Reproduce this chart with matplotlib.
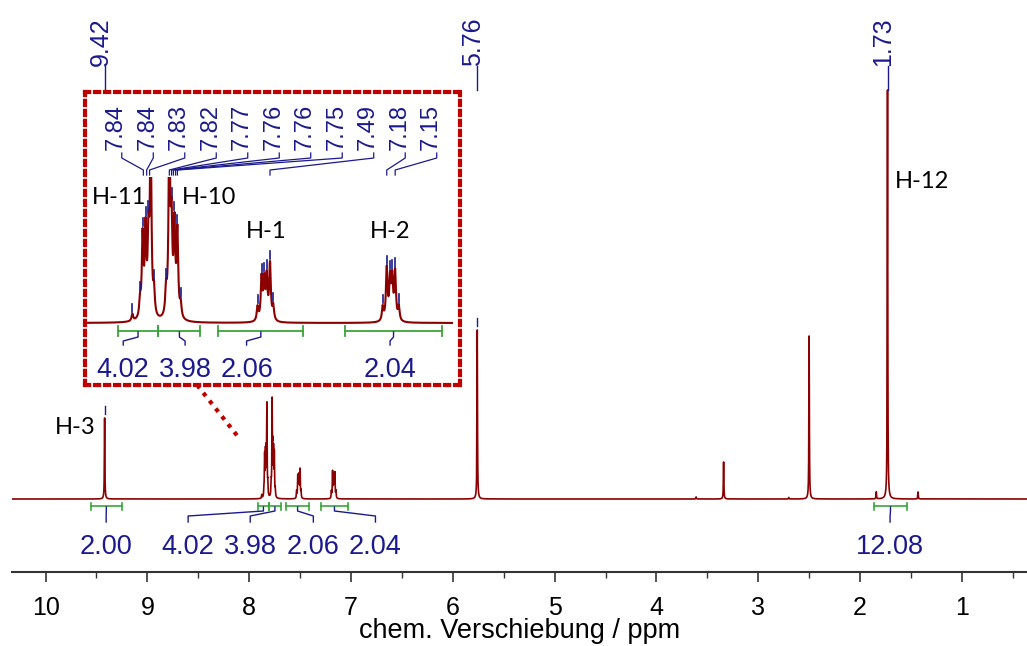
import numpy as np
import matplotlib.pyplot as plt
from matplotlib.ticker import MultipleLocator

# --- peak list (ppm, intensity) ---
singlet_ppm = [9.42, 5.76, 3.61, 3.34, 2.70, 2.50, 1.84, 1.73, 1.43]
singlet_height = [81, 169, 2, 37, 1.5, 163, 7, 409, 7]

h11_ppm = [7.876, 7.855, 7.848, 7.840, 7.832, 7.826, 7.817]
h11_height = [3.5, 8, 40, 42, 36, 88, 12]
h10_ppm = [7.784, 7.775, 7.769, 7.761, 7.753, 7.744]
h10_height = [12, 92, 42, 44, 42, 7]
h1_ppm = [7.534, 7.523, 7.516, 7.509, 7.500, 7.491]
h1_height = [7, 21, 19, 21, 28, 7]
h2_ppm = [7.192, 7.181, 7.172, 7.166, 7.158, 7.148]
h2_height = [7, 26, 20, 20, 24, 7]
line_width = 0.0026

# peak labels
top_labels = ["9.42", "5.76", "1.73"]
top_ppm = [9.42, 5.76, 1.73]
inset_labels = ["7.84", "7.84", "7.83", "7.82", "7.77", "7.76", "7.76", "7.75", "7.49", "7.18", "7.15"]
inset_targets = [7.846, 7.837, 7.829, 7.775, 7.769, 7.764, 7.758, 7.753, 7.500, 7.181, 7.158]

# integrals
int_ranges = [(9.556, 9.251), (7.916, 7.805), (7.805, 7.690), (7.641, 7.409), (7.294, 7.031), (1.862, 1.540)]
int_values = ["2.00", "4.02", "3.98", "2.06", "2.04", "12.08"]
int_label_ppm = [9.405, 8.60, 7.99, 7.37, 6.76, 1.705]
inset_int_idx = [1, 2, 3, 4]
inset_int_label_ppm = [7.901, 7.732, 7.564, 7.172]

# assignments
main_assign = [("H-3", 9.71, 71), ("H-12", 1.395, 317)]
inset_assign = [("H-11", 7.913, 63), ("H-10", 7.667, 63), ("H-1", 7.511, 45.6), ("H-2", 7.172, 45.6)]

RED = "#8B0000"
BLUE = "#1a1a8e"
GREEN = "#3aa53a"
BOX = "#c00000"
FONT = "Liberation Sans"

all_ppm = np.array(singlet_ppm + h11_ppm + h10_ppm + h1_ppm + h2_ppm)
all_h = np.array(singlet_height + h11_height + h10_height + h1_height + h2_height)

x = np.arange(0.30, 10.40, 0.0004)
y = np.zeros_like(x)
for p, h in zip(all_ppm, all_h):
    y += h * line_width**2 / ((x - p)**2 + line_width**2)

fig = plt.figure(figsize=(10.27, 6.46), dpi=100)
W, H = 1027, 646

# --- main spectrum ---
ax = fig.add_axes([12 / W, 74 / H, 1015 / W, 572 / H])
ax.plot(x, y, color=RED, lw=1.2)
ax.set_xlim(10.33, 0.36)
ax.set_ylim(-73, 499)
for s in ["top", "left", "right"]:
    ax.spines[s].set_visible(False)
ax.spines["bottom"].set_color("#333333")
ax.spines["bottom"].set_linewidth(1.5)
ax.set_yticks([])
ax.xaxis.set_major_locator(MultipleLocator(1))
ax.xaxis.set_minor_locator(MultipleLocator(0.5))
ax.tick_params(axis="x", which="major", length=7, width=1.2, color="#333333", labelsize=18, pad=10)
ax.tick_params(axis="x", which="minor", length=4, width=1.0, color="#333333")
for lab in ax.get_xticklabels():
    lab.set_fontfamily(FONT)
ax.set_xlabel("chem. Verschiebung / ppm", fontsize=19.5, family=FONT, labelpad=-1)

# top peak labels
for t, p in zip(top_labels, top_ppm):
    ax.text(p + 0.04, 433, t, rotation=90, ha="center", va="bottom", color=BLUE, fontsize=18, family=FONT)
    ax.plot([p, p], [409, 433], color=BLUE, lw=1.0, clip_on=False)
    top = np.interp(p, x, y)
    if top < 400:
        ax.plot([p, p], [top + 4, top + 12], color=BLUE, lw=1.0)

# integrals (main)
for (r0, r1), val, lp in zip(int_ranges, int_values, int_label_ppm):
    ax.plot([r0, r1], [-7, -7], color=GREEN, lw=1.2)
    ax.plot([r0, r0], [-10.5, -3.5], color=GREEN, lw=1.2)
    ax.plot([r1, r1], [-10.5, -3.5], color=GREEN, lw=1.2)
    c = (r0 + r1) / 2
    ax.plot([c, c, lp, lp], [-8, -12, -17, -23], color=BLUE, lw=1.0)
    ax.text(lp, -48, val, ha="center", va="center", color=BLUE, fontsize=19.5, family=FONT)

for t, px, py in main_assign:
    ax.text(px, py, t, ha="center", va="center", fontsize=17, family="Lato", color="black")

# dotted pointer from inset to aromatic region
ax.plot([8.512, 8.10], [114, 61], color=BOX, lw=3, linestyle=(0, (1, 1.4)), clip_on=False)

# --- inset box ---
axb = fig.add_axes([85 / W, (H - 385) / H, 375 / W, 293 / H])
axb.set_xticks([])
axb.set_yticks([])
for s in axb.spines.values():
    s.set_color(BOX)
    s.set_linewidth(3)
    s.set_linestyle((0, (1, 1.4)))

# --- inset spectrum ---
axi = fig.add_axes([87 / W, (H - 385) / H, 366 / W, 208 / H])
axi.patch.set_visible(False)
axi.axis("off")
axi.plot(x, y, color=RED, lw=1.5)
axi.set_xlim(8.0, 7.0)
axi.set_ylim(-31, 73)

# peak-top ticks
mult_ppm = h11_ppm + h10_ppm + h1_ppm + h2_ppm
for p in mult_ppm:
    top = np.interp(p, x, y)
    if top < 70:
        axi.plot([p, p], [top + 0.8, top + 5], color=BLUE, lw=1.2, clip_on=False)

# inset peak labels
label_x = np.linspace(7.905, 7.0445, len(inset_labels))
for t, lx, tx in zip(inset_labels, label_x, inset_targets):
    axi.text(lx + 0.0156, 86.5, t, rotation=90, ha="center", va="bottom", color=BLUE, fontsize=17, family=FONT, clip_on=False)
    axi.plot([lx, lx, tx, tx], [85, 82.5, 76.5, 74], color=BLUE, lw=0.9, clip_on=False)

# inset integrals
for i, lp in zip(inset_int_idx, inset_int_label_ppm):
    r0, r1 = int_ranges[i]
    axi.plot([r0, r1], [-4, -4], color=GREEN, lw=1.3, clip_on=False)
    axi.plot([r0, r0], [-6.5, -1.5], color=GREEN, lw=1.3, clip_on=False)
    axi.plot([r1, r1], [-6.5, -1.5], color=GREEN, lw=1.3, clip_on=False)
    c = (r0 + r1) / 2
    axi.plot([c, c, lp, lp], [-4.5, -7, -9, -11], color=BLUE, lw=1.0, clip_on=False)
    axi.text(lp, -23.5, int_values[i], ha="center", va="center", color=BLUE, fontsize=19.5, family=FONT)

for t, px, py in inset_assign:
    axi.text(px, py, t, ha="center", va="center", fontsize=17, family="Lato", color="black")

fig.savefig("out.png", dpi=100)
